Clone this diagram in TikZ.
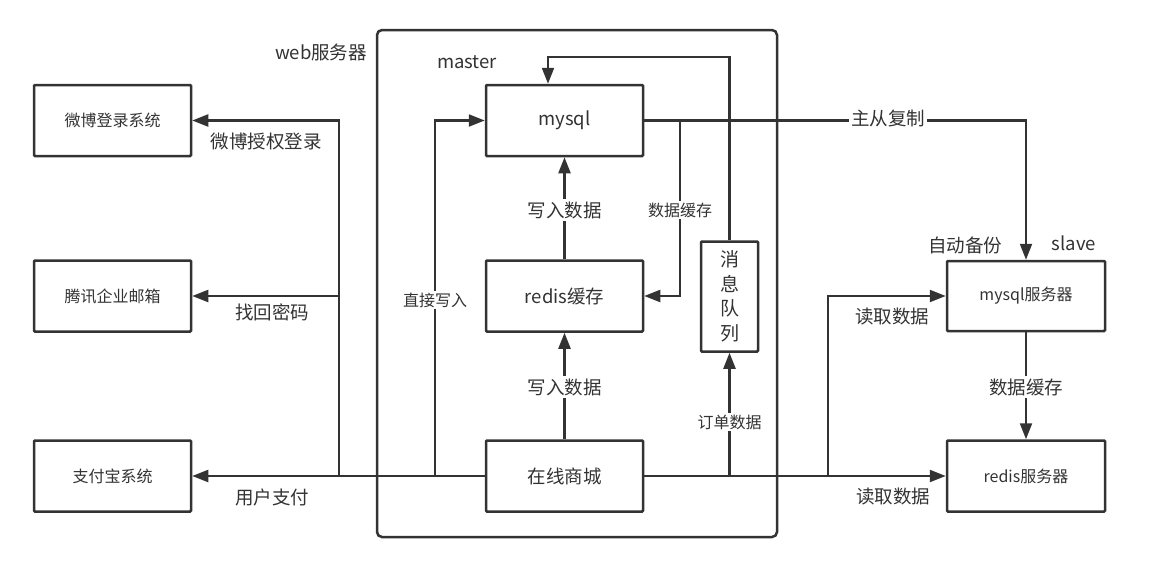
\documentclass[tikz,border=0pt]{standalone}
\usepackage{fontspec}
\setmainfont{Noto Sans CJK SC}
\usetikzlibrary{arrows.meta}
\definecolor{ink}{HTML}{333333}
\begin{document}
\begin{tikzpicture}[x=1pt,y=-1pt,
  box/.style={draw=ink,line width=2.5pt,rectangle,rounded corners=1pt,minimum width=157pt,minimum height=71pt,inner sep=0pt,text=ink,font=\fontsize{16}{18}\selectfont},
  bigbox/.style={box,font=\fontsize{18.5}{20}\selectfont},
  conn/.style={draw=ink,line width=2.1pt},
  arr/.style={conn,-{Triangle[length=16pt,width=12pt]}},
  lbl/.style={text=ink,inner sep=1pt,font=\fontsize{18.5}{20}\selectfont},
  slbl/.style={text=ink,inner sep=1pt,font=\fontsize{16}{18}\selectfont},
  onl/.style={fill=white,inner sep=2pt}
]
\useasboundingbox (0,0) rectangle (1149,573);
\fill[white] (0,0) rectangle (1149,573);

% web server frame
\draw[ink,line width=2.5pt,rounded corners=5pt] (377,30) rectangle (777,537);
\node[lbl] (web) at (321,52) {web服务器};
\node[lbl] (master) at (467,62) {master};

% external systems
\node[box] (weibo) at (112.5,120.5) {微博登录系统};
\node[box] (tencent) at (112.5,296) {腾讯企业邮箱};
\node[box] (alipay) at (112.5,476) {支付宝系统};

% master side
\node[bigbox] (mysql) at (564.5,120.5) {mysql};
\node[bigbox] (redisc) at (564.5,296) {redis缓存};
\node[bigbox] (shop) at (564.5,476) {在线商城};
\node[box,minimum width=57pt,minimum height=110pt,align=center,font=\fontsize{19}{24.5}\selectfont] (mq) at (729.5,296.5) {消\\息\\队\\列};

% slave side
\node[box,minimum width=158pt,minimum height=70pt] (smysql) at (1026,296) {mysql服务器};
\node[box,minimum width=158pt,minimum height=71pt] (sredis) at (1026,476) {redis服务器};
\node[lbl] (auto) at (965,245) {自动备份};
\node[lbl] (slave) at (1074,243) {slave};

% junctions
\coordinate (jl) at (339,476);
\coordinate (jd) at (435,476);
\coordinate (jc) at (680,120.5);
\coordinate (jr) at (828,476);
\coordinate (q1) at (729.5,57);
\coordinate (q2) at (548,57);

% outgoing calls to external systems
\draw[arr] (shop.west) -- (alipay.east);
\draw[arr] (jl) |- (weibo.east);
\draw[arr] (jl |- tencent.east) -- (tencent.east);
\node[lbl] (l1) at (266,142) {微博授权登录};
\node[lbl] (l2) at (272,312) {找回密码};
\node[lbl] (l3) at (272,497) {用户支付};

% writes into the master
\draw[arr] (jd) |- (mysql.west);
\node[slbl,onl] (l4) at (435,300) {直接写入};
\draw[arr] (redisc.north) -- (mysql.south);
\node[lbl,onl] (l5) at (564.5,210) {写入数据};
\draw[arr] (shop.north) -- (redisc.south);
\node[lbl,onl] (l6) at (564.5,387) {写入数据};
\draw[arr] (mysql.east) -- (jc) |- (redisc.east);
\node[slbl,onl] (l7) at (680,210) {数据缓存};

% message queue
\draw[arr] (mq.north) -- (q1) -- (q2) -- (q2 |- mysql.north);
\draw[arr] (mq.south |- shop.east) -- (mq.south);
\node[slbl,onl] (l8) at (729.5,422) {订单数据};

% replication and reads
\draw[arr] (jc) -| (smysql.north);
\node[lbl,onl] (l9) at (888,118) {主从复制};
\draw[arr] (shop.east) -- (sredis.west);
\draw[arr] (jr) |- (smysql.west);
\node[lbl] (l10) at (892,317) {读取数据};
\node[lbl] (l11) at (893,497) {读取数据};
\draw[arr] (smysql.south) -- (sredis.north);
\node[lbl,onl] (l12) at (1026,387) {数据缓存};
\end{tikzpicture}
\end{document}
